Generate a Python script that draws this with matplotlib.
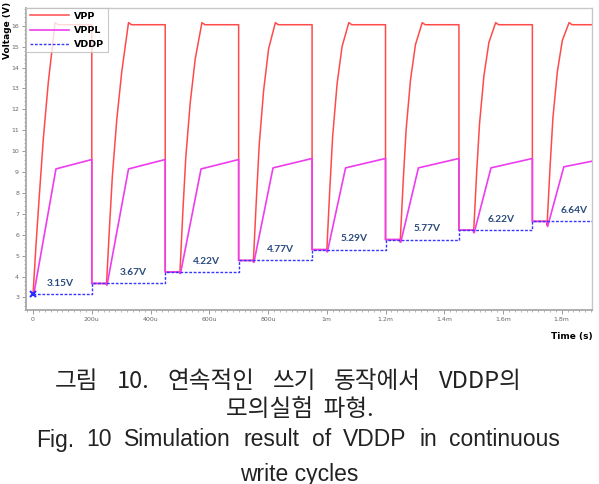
import matplotlib
matplotlib.use("Agg")
import matplotlib.pyplot as plt
from matplotlib.ticker import MultipleLocator

# ---------------- data ----------------
cycle_start_us = [0, 250, 500, 750, 1000, 1250, 1500, 1750]
vddp_levels = [3.15, 3.67, 4.22, 4.77, 5.29, 5.77, 6.22, 6.64]
vddp_labels = ["3.15V", "3.67V", "4.22V", "4.77V", "5.29V", "5.77V", "6.22V", "6.64V"]

# VPP rise, sampled at these offsets (us) after each cycle start
vpp_rise_offsets = [0, 10, 20, 35, 52, 75]
vpp_rise = [
    [3.15, 5.5, 7.6, 10.6, 13.3, 16.15],
    [3.60, 6.3, 8.8, 11.5, 13.8, 16.15],
    [4.15, 7.1, 9.7, 12.3, 14.4, 16.15],
    [4.70, 7.6, 10.3, 12.9, 14.9, 16.15],
    [5.20, 8.1, 10.7, 13.2, 15.0, 16.15],
    [5.65, 8.5, 11.0, 13.4, 15.1, 16.15],
    [6.10, 8.9, 11.3, 13.6, 15.2, 16.15],
    [6.45, 9.2, 11.6, 13.8, 15.3, 16.15],
]
vpp_plateau = 16.05
pulse_width_us = 200

# VPPL per cycle
vppl_dip = [3.12, 3.60, 4.15, 4.68, 5.18, 5.65, 6.10, 6.40]
vppl_knee_t = [78, 75, 72, 67, 64, 62, 59, 57]
vppl_knee_v = [9.15, 9.15, 9.15, 9.20, 9.20, 9.20, 9.20, 9.25]
vppl_peak = [9.60, 9.60, 9.60, 9.65, 9.65, 9.65, 9.65, 9.65]

x_ticks = [0, 200, 400, 600, 800, 1000, 1200, 1400, 1600, 1800]
x_tick_labels = ["0", "200u", "400u", "600u", "800u", "1m", "1.2m", "1.4m", "1.6m", "1.8m"]
y_ticks = list(range(3, 17))

caption_lines = [
    "그림 10. 연속적인 쓰기 동작에서 VDDP의",
    "모의실험 파형.",
    "Fig. 10 Simulation result of VDDP in continuous",
    "write cycles",
]

# ---------------- build waveforms ----------------
n = len(cycle_start_us)
period = 250
t_vpp, v_vpp = [], []
t_vppl, v_vppl = [], []
t_vddp, v_vddp = [], []
for k in range(n):
    s = cycle_start_us[k]
    for o, v in zip(vpp_rise_offsets, vpp_rise[k]):
        t_vpp.append(s + o); v_vpp.append(v)
    t_vpp += [s + 85, s + pulse_width_us]; v_vpp += [vpp_plateau, vpp_plateau]
    t_vppl += [s, s + 2, s + vppl_knee_t[k], s + pulse_width_us]
    v_vppl += [vddp_levels[k], vppl_dip[k], vppl_knee_v[k], vppl_peak[k]]
    if k + 1 < n:
        nxt = vddp_levels[k + 1]
        t_vpp += [s + pulse_width_us, s + period]; v_vpp += [nxt, nxt]
        t_vppl += [s + pulse_width_us, s + period]; v_vppl += [nxt, nxt]
    start = 0 if k == 0 else cycle_start_us[k - 1] + pulse_width_us
    t_vddp += [start, s + pulse_width_us]; v_vddp += [vddp_levels[k], vddp_levels[k]]

# ---------------- plot ----------------
W, H = 599, 484
fig = plt.figure(figsize=(W/100, H/100), dpi=100)
ax = fig.add_axes([26/W, 1-310/H, (592-26)/W, (310-8)/H])

ax.plot(t_vpp, v_vpp, color="#ff4a4a", lw=1.1, label="VPP", zorder=2)
ax.plot(t_vppl, v_vppl, color="#ee3cee", lw=1.2, label="VPPL", zorder=3)
ax.plot(t_vddp, v_vddp, color="#3535ff", lw=1.0, ls=(0, (2, 1.2)), label="VDDP", zorder=4)
ax.plot([cycle_start_us[0]], [vddp_levels[0]], marker="x", color="#2a2aff", ms=4, mew=1.5, zorder=5)

for k in range(n):
    ax.text(cycle_start_us[k] + 92, vddp_levels[k] + 0.52, vddp_labels[k],
            color="#2b4a7c", fontsize=7.3, fontweight="bold", family="Lato",
            ha="center", va="center", zorder=6)

ax.set_xlim(-24, 1903)
ax.set_ylim(2.4, 16.85)
ax.set_xticks(x_ticks)
ax.set_xticklabels(x_tick_labels)
ax.set_yticks(y_ticks)
ax.xaxis.set_minor_locator(MultipleLocator(20))
ax.yaxis.set_minor_locator(MultipleLocator(0.2))
ax.tick_params(axis="both", which="major", labelsize=4.5, labelcolor="#666666",
               color="#888888", length=3, width=0.6, pad=2)
ax.tick_params(axis="both", which="minor", color="#999999", length=1.5, width=0.5)
for side in ["left", "bottom"]:
    ax.spines[side].set_color("#a8a8a8"); ax.spines[side].set_linewidth(1.3)
for side in ["top", "right"]:
    ax.spines[side].set_color("#c8c8c8"); ax.spines[side].set_linewidth(1.0)

leg = ax.legend(loc="upper left", handlelength=4.2, borderpad=0.35,
                labelspacing=0.55, handletextpad=0.5, fancybox=False,
                borderaxespad=0.05, prop={"weight": "bold", "size": 6.8})
leg.get_frame().set_edgecolor("#bbbbbb")
leg.get_frame().set_linewidth(0.8)

fig.text(8/W, 1-30/H, "Voltage (V)", rotation=90, fontsize=6.5, fontweight="bold",
         ha="center", va="center")
fig.text(593/W, 1-337/H, "Time (s)", fontsize=6.5, fontweight="bold",
         ha="right", va="center")

kfam = ["Noto Sans CJK KR", "DejaVu Sans"]
efam = ["Liberation Sans", "DejaVu Sans"]

renderer = fig.canvas.get_renderer()


def justified(line, x0, x1, yc, family, size):
    words = line.split(" ")
    arts = [fig.text(0, 1-yc/H, w, family=family, fontsize=size, color="#222222",
                     ha="left", va="center") for w in words]
    widths = [a.get_window_extent(renderer).width for a in arts]
    gap = ((x1 - x0) - sum(widths)) / max(len(words) - 1, 1)
    x = x0
    for a, w in zip(arts, widths):
        a.set_x(x / W)
        x += w + gap


justified(caption_lines[0], 55, 522, 382, kfam, 17)
fig.text(0.5, 1-410/H, caption_lines[1].replace(" ", "  "), family=kfam, fontsize=17,
         color="#222222", ha="center", va="center")
justified(caption_lines[2], 36, 560, 440, efam, 16.5)
fig.text(0.5, 1-474/H, caption_lines[3], family=efam, fontsize=16.5, color="#222222",
         ha="center", va="center")

fig.savefig("out.png", dpi=100)
